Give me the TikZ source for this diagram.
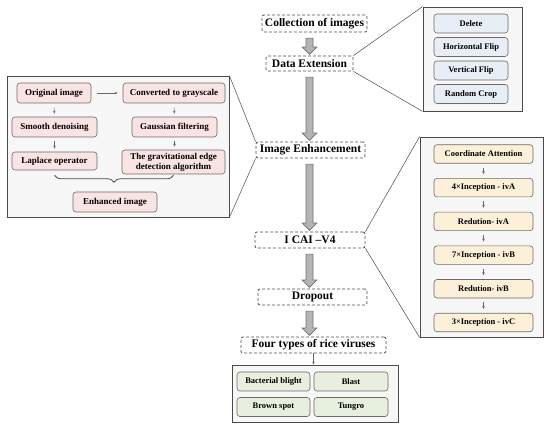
\documentclass[tikz,border=0pt]{standalone}
\usepackage{fontspec}
\setmainfont{Liberation Serif}
\usetikzlibrary{shapes.arrows,arrows.meta,calc,decorations.pathreplacing}
\definecolor{framefill}{HTML}{F7F7F7}
\definecolor{framecol}{HTML}{4A4A4A}
\definecolor{pinkfill}{HTML}{F9E3E3}
\definecolor{bluefill}{HTML}{E8EEF6}
\definecolor{yellowfill}{HTML}{FCF1D8}
\definecolor{greenfill}{HTML}{E7EFDF}
\definecolor{iborder}{HTML}{6A6A6A}
\definecolor{arrfill}{HTML}{B4B4B4}
\definecolor{arrborder}{HTML}{707070}
\definecolor{dashcol}{HTML}{505050}
\newcommand\fatarrow[3]{\path let \p1=($(#1.south -| spine)+(0,4)$), \p2=($(#2.north -| spine)+(0,-3)$), \n1={veclen(\x2-\x1,\y2-\y1)} in node[fatarr, minimum height=\n1] (#3) at ($(\p1)!0.5!(\p2)$) {};}
\begin{document}
\begin{tikzpicture}[x=1pt,y=-1pt,
  mainbox/.style={draw=dashcol, dashed, dash pattern=on 3pt off 2pt, rounded corners=2pt, fill=white, line width=0.8pt, font=\fontsize{11.5}{13}\selectfont\bfseries, inner sep=0pt},
  frame/.style={draw=framecol, fill=framefill, line width=0.8pt, inner sep=0pt},
  ibox/.style={draw=iborder, rounded corners=3pt, line width=0.6pt, font=\fontsize{8.5}{9.5}\selectfont\bfseries, inner sep=0pt, align=center},
  lbox/.style={ibox, fill=pinkfill, font=\fontsize{9}{10.5}\selectfont\bfseries},
  dbox/.style={ibox, fill=bluefill, minimum width=74pt, minimum height=19pt},
  cbox/.style={ibox, fill=yellowfill, minimum width=99pt, minimum height=18.5pt},
  gbox/.style={ibox, fill=greenfill, minimum width=73pt, minimum height=19pt},
  fatarr/.style={single arrow, draw=arrborder, fill=arrfill, line width=0.6pt, rotate=-90, inner xsep=0pt, inner ysep=3.2pt, single arrow head extend=3.8pt, minimum width=14pt},
  thinarr/.style={draw=iborder, line width=0.5pt, -{Stealth[length=3pt,width=2.6pt]}},
  zoomline/.style={draw=framecol, line width=0.5pt}
]
\useasboundingbox (0,0) rectangle (550,427);
\fill[white] (0,0) rectangle (550,427);
\coordinate (spine) at (309.5,0);

% main column
\node[mainbox, minimum width=105pt, minimum height=17pt] (coll) at (314.5,23.5) {Collection of images};
\node[mainbox, minimum width=87pt, minimum height=15pt] (data) at (309.5,63.5) {Data Extension};
\node[mainbox, minimum width=109pt, minimum height=16pt] (imgenh) at (310.5,150) {Image Enhancement};
\node[mainbox, minimum width=110pt, minimum height=16pt] (cai) at (310,240) {I CAI \textendash V4};
\node[mainbox, minimum width=109pt, minimum height=16pt] (drop) at (312.5,297) {Dropout};
\node[mainbox, minimum width=145pt, minimum height=16pt] (four) at (313.5,345) {Four types of rice viruses};

\fatarrow{coll}{data}{a1}
\fatarrow{data}{imgenh}{a2}
\fatarrow{imgenh}{cai}{a3}
\fatarrow{cai}{drop}{a4}
\fatarrow{drop}{four}{a5}

% data extension frame
\node[frame, minimum width=99pt, minimum height=104pt] (dext) at (472.5,59) {};
\node[dbox] (del) at (471,23.5) {Delete};
\node[dbox] (hflip) at (471,47) {Horizontal Flip};
\node[dbox] (vflip) at (471,70.5) {Vertical Flip};
\node[dbox] (rcrop) at (471,94) {Random Crop};
\draw[zoomline] (data.north east) -- (dext.north west);
\draw[zoomline] (data.south east) -- (dext.south west);

% image enhancement frame
\node[frame, minimum width=222pt, minimum height=141pt] (lframe) at (118,146.5) {};
\node[lbox, minimum width=74pt, minimum height=20pt] (orig) at (54,93) {Original image};
\node[lbox, minimum width=102pt, minimum height=20pt] (gray) at (174,93) {Converted to grayscale};
\node[lbox, minimum width=85pt, minimum height=20pt] (smooth) at (54.5,127) {Smooth denoising};
\node[lbox, minimum width=85pt, minimum height=20pt] (gauss) at (174.5,127) {Gaussian filtering};
\node[lbox, minimum width=85pt, minimum height=18pt] (lap) at (54.5,161) {Laplace operator};
\node[lbox, minimum width=103pt, minimum height=24pt, font=\fontsize{9}{10}\selectfont\bfseries] (grav) at (173.5,162) {The gravitational edge\\detection algorithm};
\node[lbox, minimum width=84pt, minimum height=20pt] (enh) at (115,202) {Enhanced image};
\draw[thinarr, shorten <=6pt, shorten >=5pt] (orig) -- (gray);
\draw[thinarr, shorten <=4pt, shorten >=3pt] (orig) -- (smooth);
\draw[thinarr, shorten <=4pt, shorten >=3pt] (smooth) -- (lap);
\draw[thinarr, shorten <=4pt, shorten >=3pt] (gray) -- (gauss);
\draw[thinarr, shorten <=4pt, shorten >=3pt] (gauss.south) -- (gauss.south |- grav.north);
\coordinate (brL) at ($(lap.south)+(0,5)$);
\coordinate (brR) at (brL -| grav.south);
\draw[framecol, line width=0.8pt, decorate, decoration={brace, mirror, amplitude=7pt}] (brL) -- (brR);
\draw[zoomline] (imgenh.north west) -- (lframe.north east);
\draw[zoomline] (imgenh.south west) -- (lframe.south east);

% CAI frame
\node[frame, minimum width=123pt, minimum height=200pt] (cframe) at (481.5,237) {};
\node[cbox] (ca) at (483.5,154) {Coordinate Attention};
\node[cbox] (inca) at (483.5,187.7) {4×Inception - ivA};
\node[cbox] (reda) at (483.5,221.4) {Redution- ivA};
\node[cbox] (incb) at (483.5,255.1) {7×Inception - ivB};
\node[cbox] (redb) at (483.5,288.8) {Redution- ivB};
\node[cbox] (incc) at (483.5,322.5) {3×Inception - ivC};
\foreach \a/\b in {ca/inca, inca/reda, reda/incb, incb/redb, redb/incc}
  \draw[thinarr, shorten <=4pt, shorten >=4pt] (\a) -- (\b);
\draw[zoomline] (cai.north east) -- (cframe.north west);
\draw[zoomline] (cai.south east) -- (cframe.south west);

% result frame
\node[frame, minimum width=166pt, minimum height=57pt] (bframe) at (315,393.5) {};
\node[gbox] (bb) at (273.5,381.5) {Bacterial blight};
\node[gbox, minimum width=74pt] (blast) at (351,381.5) {Blast};
\node[gbox] (bs) at (273.5,407) {Brown spot};
\node[gbox, minimum width=74pt] (tung) at (351,407) {Tungro};
\draw[thinarr] (four.south) -- (four.south |- bframe.north);
\end{tikzpicture}
\end{document}
